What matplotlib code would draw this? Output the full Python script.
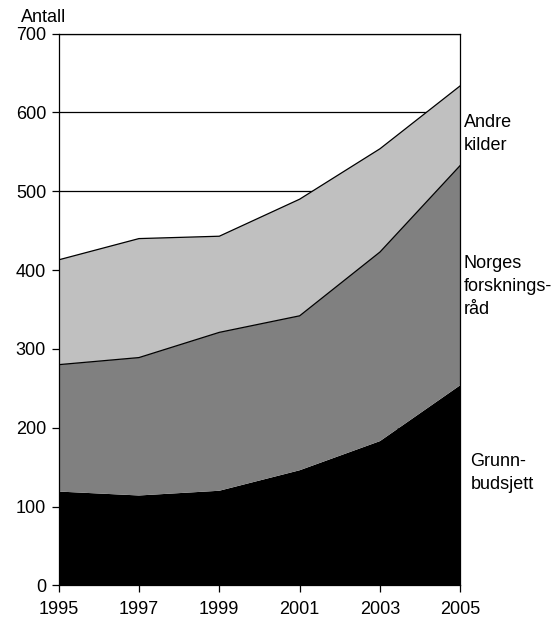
import numpy as np
import matplotlib.pyplot as plt

plt.rcParams['font.family'] = ['Liberation Sans', 'DejaVu Sans']

years = [1995, 1997, 1999, 2001, 2003, 2005]
grunnbudsjett = [119, 114, 120, 146, 183, 254]
forskningsraad = [161, 175, 201, 196, 240, 279]
andre_kilder = [133, 151, 122, 148, 131, 101]

fig = plt.figure(figsize=(5.58, 6.24), dpi=100)
ax = fig.add_axes([0.105, 0.062, 0.72, 0.884])

for y in range(100, 800, 100):
    ax.axhline(y, color='black', lw=0.9, zorder=0)

ax.stackplot(years, grunnbudsjett, forskningsraad, andre_kilder,
             colors=['#000000', '#808080', '#c0c0c0'], zorder=1)

g = np.array(grunnbudsjett)
n = g + np.array(forskningsraad)
a = n + np.array(andre_kilder)
ax.plot(years, n, color='black', lw=0.9, zorder=2)
ax.plot(years, a, color='black', lw=0.9, zorder=2)

ax.set_xlim(1995, 2005)
ax.set_ylim(0, 700)
ax.set_xticks(years)
ax.set_yticks(range(0, 800, 100))
ax.tick_params(labelsize=13, length=5, width=0.9, direction='out')
ax.tick_params(axis='x', pad=6)
ax.tick_params(axis='y', pad=4)
for s in ax.spines.values():
    s.set_linewidth(0.9)

fig.text(0.038, 0.958, 'Antall', fontsize=13, ha='left', va='bottom')
ax.text(2005.08, 573, 'Andre\nkilder', fontsize=13, va='center', ha='left',
        linespacing=1.45)
ax.text(2005.08, 379, 'Norges\nforsknings-\nråd', fontsize=13, va='center', ha='left',
        linespacing=1.45)
ax.text(2005.25, 142, 'Grunn-\nbudsjett', fontsize=13, va='center', ha='left',
        linespacing=1.45)

fig.savefig('out.png', dpi=100)
